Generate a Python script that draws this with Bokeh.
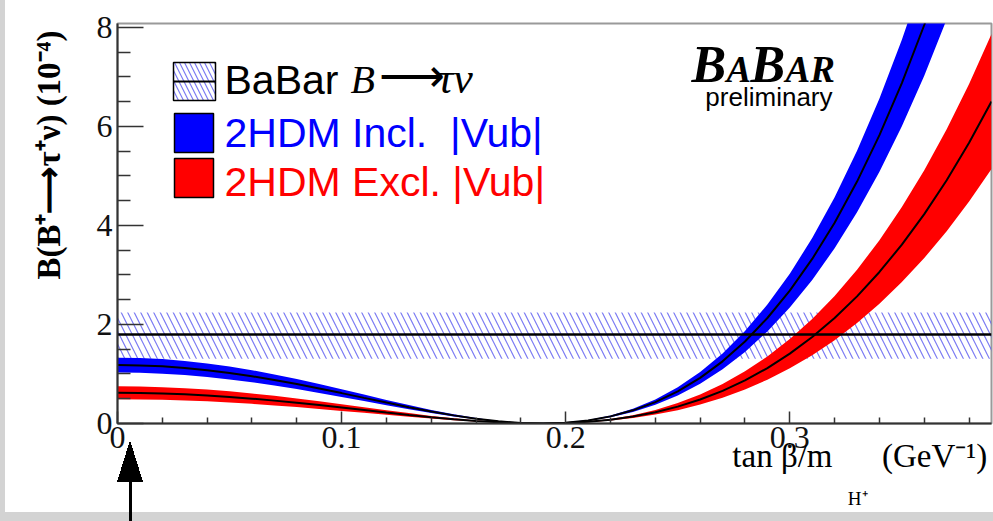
import math
from bokeh.plotting import figure
from bokeh.models import (Range1d, FixedTicker, Label, BoxAnnotation, Title)
from bokeh.embed import file_html
from bokeh.resources import INLINE

# tan(beta)/m_H+ grid (GeV^-1)
x_grid = [0.00, 0.01, 0.02, 0.03, 0.04, 0.05, 0.06, 0.07, 0.08, 0.09,
          0.10, 0.11, 0.12, 0.13, 0.14, 0.15, 0.16, 0.17, 0.18, 0.19,
          0.20, 0.21, 0.22, 0.23, 0.24, 0.25, 0.26, 0.27, 0.28, 0.29,
          0.30, 0.31, 0.32, 0.33, 0.34, 0.35, 0.36, 0.37, 0.38, 0.39]

# 2HDM prediction with inclusive |Vub| (units of 1e-4)
incl_mid = [1.180, 1.173, 1.154, 1.122, 1.077, 1.021, 0.955, 0.880, 0.797, 0.707,
            0.614, 0.518, 0.423, 0.330, 0.243, 0.164, 0.097, 0.045, 0.011, 0.000,
            0.016, 0.062, 0.144, 0.266, 0.432, 0.649, 0.922, 1.256, 1.657, 2.131,
            2.684, 3.324, 4.056, 4.887, 5.825, 6.877, 8.050, 9.353, 10.794, 12.380]
incl_lo = [1.030, 1.024, 1.007, 0.979, 0.940, 0.891, 0.834, 0.768, 0.695, 0.617,
           0.536, 0.452, 0.369, 0.288, 0.212, 0.143, 0.085, 0.039, 0.010, 0.000,
           0.014, 0.054, 0.125, 0.232, 0.377, 0.567, 0.805, 1.096, 1.446, 1.860,
           2.343, 2.901, 3.540, 4.266, 5.084, 6.003, 7.027, 8.164, 9.422, 10.806]
incl_hi = [1.330, 1.323, 1.301, 1.264, 1.214, 1.151, 1.077, 0.992, 0.898, 0.797,
           0.692, 0.584, 0.477, 0.372, 0.274, 0.185, 0.109, 0.050, 0.013, 0.000,
           0.018, 0.070, 0.162, 0.299, 0.487, 0.732, 1.039, 1.416, 1.868, 2.402,
           3.026, 3.746, 4.571, 5.508, 6.565, 7.751, 9.074, 10.542, 12.166, 13.953]

# 2HDM prediction with exclusive |Vub| (units of 1e-4)
excl_mid = [0.620, 0.617, 0.606, 0.589, 0.566, 0.537, 0.502, 0.462, 0.419, 0.372,
            0.323, 0.272, 0.222, 0.174, 0.128, 0.086, 0.051, 0.024, 0.006, 0.000,
            0.008, 0.033, 0.076, 0.140, 0.227, 0.341, 0.485, 0.660, 0.871, 1.120,
            1.411, 1.746, 2.131, 2.568, 3.061, 3.613, 4.230, 4.914, 5.671, 6.505]
excl_lo = [0.490, 0.487, 0.479, 0.466, 0.447, 0.424, 0.397, 0.365, 0.331, 0.294,
           0.255, 0.215, 0.176, 0.137, 0.101, 0.068, 0.040, 0.019, 0.005, 0.000,
           0.007, 0.026, 0.060, 0.110, 0.180, 0.270, 0.383, 0.522, 0.688, 0.885,
           1.115, 1.380, 1.684, 2.029, 2.419, 2.856, 3.343, 3.884, 4.482, 5.141]
excl_hi = [0.750, 0.746, 0.733, 0.713, 0.685, 0.649, 0.607, 0.559, 0.506, 0.450,
           0.390, 0.330, 0.269, 0.210, 0.154, 0.104, 0.062, 0.028, 0.007, 0.000,
           0.010, 0.039, 0.091, 0.169, 0.275, 0.413, 0.586, 0.798, 1.053, 1.355,
           1.706, 2.113, 2.578, 3.106, 3.702, 4.371, 5.117, 5.945, 6.860, 7.869]

# BaBar measurement of B(B+ -> tau+ nu) (units of 1e-4)
babar_mid = 1.80
babar_lo = 1.31
babar_hi = 2.24

x_limits = [0.0, 0.39]
y_limits = [0.0, 8.08]

x_ticks = [0.0, 0.1, 0.2, 0.3]
x_tick_labels = ["0", "0.1", "0.2", "0.3"]
x_minor = [0.02, 0.04, 0.06, 0.08, 0.12, 0.14, 0.16, 0.18,
           0.22, 0.24, 0.26, 0.28, 0.32, 0.34, 0.36, 0.38]
y_ticks = [0, 2, 4, 6, 8]
y_tick_labels = ["0", "2", "4", "6", "8"]
y_minor = [0.5, 1.0, 1.5, 2.5, 3.0, 3.5, 4.5, 5.0, 5.5, 6.5, 7.0, 7.5]

x_title = "tan \u03b2/m\u2003\u2002(GeV\u207b\u00b9)"
x_title_sub = "H\u207a"
y_title = "B(B\u207a\u27f6\u03c4\u207a\u03bd) (10\u207b\u2074)"

# page geometry
W, H = 993, 521
LEFT, RIGHT, TOP, BOTTOM = 117, 2, 23, 98
FRAME_BOTTOM = H - BOTTOM
SERIF = "Liberation Serif"
SANS = "Liberation Sans"
HATCH = "#5a5af0"

# slide backdrop: grey card, white plot panel, and the pointer arrow at the origin
backdrop = ", ".join([
    "linear-gradient(to bottom right, transparent 50%, #000 50%) 117px 440px / 13px 42px no-repeat",
    "linear-gradient(to bottom left, transparent 50%, #000 50%) 130px 440px / 13px 42px no-repeat",
    "linear-gradient(#000, #000) 129px 480px / 3px 41px no-repeat",
    "linear-gradient(#fff, #fff) 5px 0px / 988px 512px no-repeat",
    "#d3d3d3",
])


def at(cx, cy):
    """Canvas pixel -> frame-relative screen units (y measured upward)."""
    return cx - LEFT, FRAME_BOTTOM - cy


p = figure(width=W, height=H,
           x_range=Range1d(*x_limits), y_range=Range1d(*y_limits),
           output_backend="svg", toolbar_location=None,
           min_border_left=LEFT, min_border_right=RIGHT,
           min_border_top=TOP, min_border_bottom=BOTTOM,
           border_fill_color=None, background_fill_color="white",
           outline_line_color="#9a9a9a", outline_line_width=2,
           styles={"background": backdrop})
p.grid.visible = False

# axes in ROOT style: ticks pointing into the frame
for ax, ticks, minor, labels, tin in ((p.xaxis[0], x_ticks, x_minor, x_tick_labels, 12),
                                      (p.yaxis[0], y_ticks, y_minor, y_tick_labels, 26)):
    ax.ticker = FixedTicker(ticks=ticks, minor_ticks=minor)
    ax.major_label_overrides = dict(zip(ticks, labels))
    ax.major_tick_in = tin
    ax.major_tick_out = 0
    ax.minor_tick_in = tin // 2
    ax.minor_tick_out = 0
    ax.axis_line_color = "#333333"
    ax.axis_line_width = 2
    ax.major_tick_line_color = "#333333"
    ax.major_tick_line_width = 1.5
    ax.minor_tick_line_color = "#333333"
    ax.minor_tick_line_width = 1.5
    ax.major_label_text_font = SERIF
    ax.major_label_text_font_size = "32px"
    ax.major_label_text_color = "#111111"
p.xaxis.major_label_standoff = 3
p.yaxis.major_label_standoff = 5

# x-axis title pushed to the right end of the (centred) label slot with leading
# em spaces, and tucked up beside the tick labels
xax = p.xaxis[0]
xax.axis_label = "\u2003" * 18 + "\u2002" + x_title
xax.axis_label_standoff = -13
xax.axis_label_text_font = SERIF
xax.axis_label_text_font_size = "33px"
xax.axis_label_text_font_style = "normal"
xax.axis_label_text_color = "black"

# BaBar measured band (hatched) across the full range
babar_band = p.varea(x=x_limits, y1=[babar_lo, babar_lo], y2=[babar_hi, babar_hi],
                     fill_alpha=0, hatch_pattern="\\", hatch_color=HATCH,
                     hatch_alpha=0.8, hatch_scale=13, hatch_weight=1.2)

# 2HDM bands with their central values
incl_band = p.varea(x=x_grid, y1=incl_lo, y2=incl_hi, fill_color="#0000ff")
p.line(x_grid, incl_mid, line_color="black", line_width=2)
excl_band = p.varea(x=x_grid, y1=excl_lo, y2=excl_hi, fill_color="#ff0000")
p.line(x_grid, excl_mid, line_color="black", line_width=2)

babar_line = p.line(x_limits, [babar_mid, babar_mid], line_color="black", line_width=2.5)


def box(cx0, cy0, cx1, cy1, **style):
    l, t = at(cx0, cy0)
    r, b = at(cx1, cy1)
    props = dict(fill_alpha=1, line_alpha=1, line_color="black", line_width=1.5)
    props.update(style)
    p.add_layout(BoxAnnotation(left=l, right=r, top=t, bottom=b,
                               left_units="screen", right_units="screen",
                               top_units="screen", bottom_units="screen", **props))


def text(s, cx, baseline, size, font=SERIF, style="normal", align="left",
         color="black"):
    # Label anchors sit about a third of the font size above the baseline
    x, y = at(cx, baseline - 0.34 * size)
    p.add_layout(Label(x=x, y=y, x_units="screen", y_units="screen", text=s,
                       text_font=font, text_font_size=f"{size}px",
                       text_font_style=style, text_align=align,
                       text_baseline="alphabetic", text_color=color))


# legend
box(173, 62, 215, 100, fill_alpha=0, hatch_pattern="\\", hatch_color=HATCH,
    hatch_alpha=0.8, hatch_scale=10, hatch_weight=1.2)
box(173, 80, 215, 82, fill_color="black", line_width=0)
box(174, 113, 213, 152, fill_color="#0000ff")
box(174, 158, 213, 197, fill_color="#ff0000")
text("BaBar", 224, 93, 41, font=SANS)
text("B", 350, 93, 40, style="italic")
text("\u27f6", 378, 92, 46)
text("\u03c4\u03bd", 437, 93, 44, style="italic")
text("2HDM Incl.\u00a0 |Vub|", 224, 146, 41, font=SANS, color="#0000ff")
text("2HDM Excl. |Vub|", 224, 195, 41, font=SANS, color="#ff0000")

# experiment logo
text("B", 691, 82, 52, style="bold italic")
text("A", 726, 82, 37, style="bold italic")
text("B", 750, 82, 52, style="bold italic")
text("AR", 785, 82, 37, style="bold italic")
text("preliminary", 832, 105, 26, font=SANS, align="right")

# y-axis title, top-aligned on the left
p.add_layout(Title(text=y_title, align="right", offset=7, standoff=53,
                   text_font=SERIF, text_font_size="33px", text_font_style="bold",
                   text_color="black"), "left")

# subscript of the x-axis title, under the gap left in the main text
p.add_layout(Title(text=x_title_sub, align="right", offset=124, standoff=18,
                   text_font=SERIF, text_font_size="19px", text_font_style="normal",
                   text_color="black"), "below")

open("out.html", "w").write(file_html(p, INLINE))
